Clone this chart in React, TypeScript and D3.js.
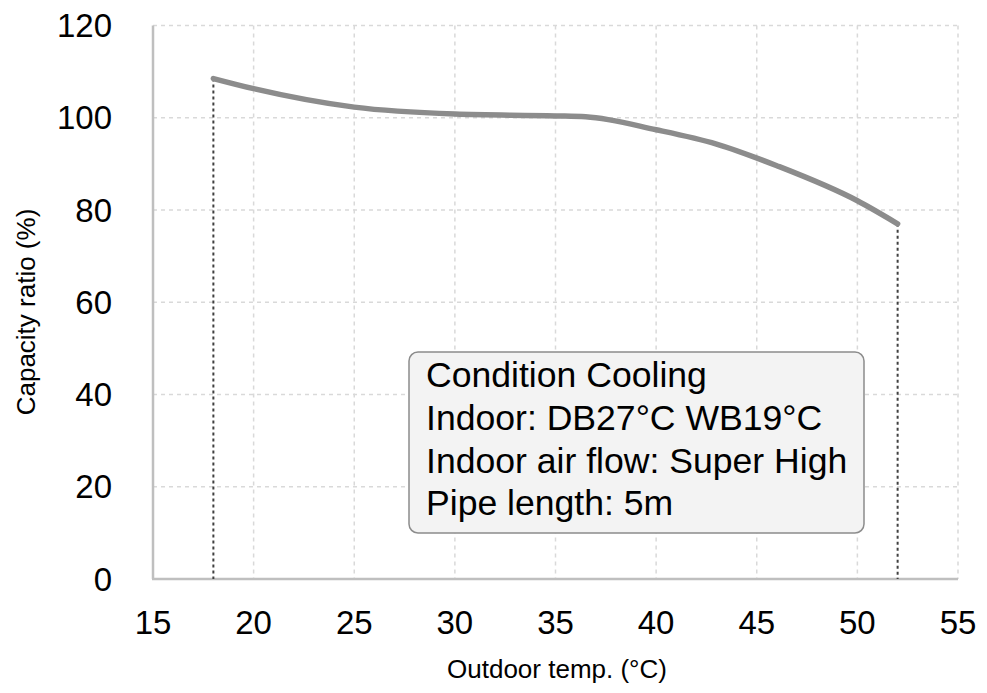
import React, { useRef, useEffect } from 'react';
import * as d3 from 'd3';

// outdoor temperature (°C) and capacity ratio (%)
const temps = [18, 20, 25, 30, 35, 36.5, 40, 43, 46, 50, 52];
const ratios = [108.5, 106.3, 102.3, 100.8, 100.4, 100.2, 97.4, 94.3, 89.6, 82.0, 77.0];
const xTicks = [15, 20, 25, 30, 35, 40, 45, 50, 55];
const yTicks = [0, 20, 40, 60, 80, 100, 120];
const noteLines = [
  'Condition Cooling',
  'Indoor: DB27°C WB19°C',
  'Indoor air flow: Super High',
  'Pipe length: 5m',
];

const W = 987;
const H = 693;
const FONT = 'Liberation Sans, Arial, sans-serif';

export default function App() {
  const ref = useRef<SVGSVGElement>(null);

  useEffect(() => {
    if (!ref.current) return;
    const svg = d3.select(ref.current);
    svg.selectAll('*').remove();

    const x = d3.scaleLinear().domain([15, 55]).range([153, 958]);
    const y = d3.scaleLinear().domain([0, 120]).range([579, 25.5]);

    const grid = svg.append('g');
    // vertical grid
    grid
      .selectAll('line.v')
      .data(xTicks.slice(1))
      .enter()
      .append('line')
      .attr('x1', (d) => x(d))
      .attr('x2', (d) => x(d))
      .attr('y1', y(120))
      .attr('y2', y(0))
      .attr('stroke', '#d9d9d9')
      .attr('stroke-width', 1.5)
      .attr('stroke-dasharray', '4,4');
    // horizontal grid
    grid
      .selectAll('line.h')
      .data(yTicks.slice(1))
      .enter()
      .append('line')
      .attr('x1', x(15))
      .attr('x2', x(55))
      .attr('y1', (d) => y(d))
      .attr('y2', (d) => y(d))
      .attr('stroke', '#d9d9d9')
      .attr('stroke-width', 1.5)
      .attr('stroke-dasharray', '4,4');

    // axes
    svg
      .append('line')
      .attr('x1', x(15))
      .attr('x2', x(15))
      .attr('y1', y(120))
      .attr('y2', y(0))
      .attr('stroke', '#bfbfbf')
      .attr('stroke-width', 2.5);
    svg
      .append('line')
      .attr('x1', x(15) - 1)
      .attr('x2', x(55))
      .attr('y1', y(0))
      .attr('y2', y(0))
      .attr('stroke', '#bfbfbf')
      .attr('stroke-width', 2.5);

    // tick labels
    svg
      .append('g')
      .selectAll('text')
      .data(xTicks)
      .enter()
      .append('text')
      .attr('x', (d) => x(d))
      .attr('y', 634)
      .attr('text-anchor', 'middle')
      .attr('font-family', FONT)
      .attr('font-size', 33)
      .attr('fill', '#000')
      .text((d) => d);
    svg
      .append('g')
      .selectAll('text')
      .data(yTicks)
      .enter()
      .append('text')
      .attr('x', 112)
      .attr('y', (d) => y(d) + 11.5)
      .attr('text-anchor', 'end')
      .attr('font-family', FONT)
      .attr('font-size', 33)
      .attr('fill', '#000')
      .text((d) => d);

    // axis titles
    svg
      .append('text')
      .attr('x', 557)
      .attr('y', 678)
      .attr('text-anchor', 'middle')
      .attr('font-family', FONT)
      .attr('font-size', 26)
      .text('Outdoor temp. (°C)');
    svg
      .append('text')
      .attr('transform', 'translate(35,312) rotate(-90)')
      .attr('text-anchor', 'middle')
      .attr('font-family', FONT)
      .attr('font-size', 26)
      .text('Capacity ratio (%)');

    // drop lines at both ends
    const ends = [0, temps.length - 1];
    svg
      .append('g')
      .selectAll('line')
      .data(ends)
      .enter()
      .append('line')
      .attr('x1', (i) => x(temps[i]))
      .attr('x2', (i) => x(temps[i]))
      .attr('y1', (i) => y(ratios[i]))
      .attr('y2', y(0))
      .attr('stroke', '#404040')
      .attr('stroke-width', 2)
      .attr('stroke-dasharray', '3,3');

    // curve
    const line = d3
      .line<number>()
      .x((d, i) => x(temps[i]))
      .y((d) => y(d))
      .curve(d3.curveMonotoneX);
    svg
      .append('path')
      .datum(ratios)
      .attr('d', line)
      .attr('fill', 'none')
      .attr('stroke', '#8c8c8c')
      .attr('stroke-width', 5.5)
      .attr('stroke-linecap', 'round');

    // condition box
    const box = svg.append('g');
    box
      .append('rect')
      .attr('x', 409)
      .attr('y', 352)
      .attr('width', 455)
      .attr('height', 181)
      .attr('rx', 9)
      .attr('fill', '#f3f3f3')
      .attr('stroke', '#8c8c8c')
      .attr('stroke-width', 1.5);
    box
      .selectAll('text')
      .data(noteLines)
      .enter()
      .append('text')
      .attr('x', 426)
      .attr('y', (d, i) => 387 + i * 42.8)
      .attr('font-family', FONT)
      .attr('font-size', 35.6)
      .attr('fill', '#000')
      .text((d) => d);
  }, []);

  return (
    <svg
      ref={ref}
      width={W}
      height={H}
      style={{ position: 'absolute', left: 0, top: 0, background: '#fff' }}
    />
  );
}
